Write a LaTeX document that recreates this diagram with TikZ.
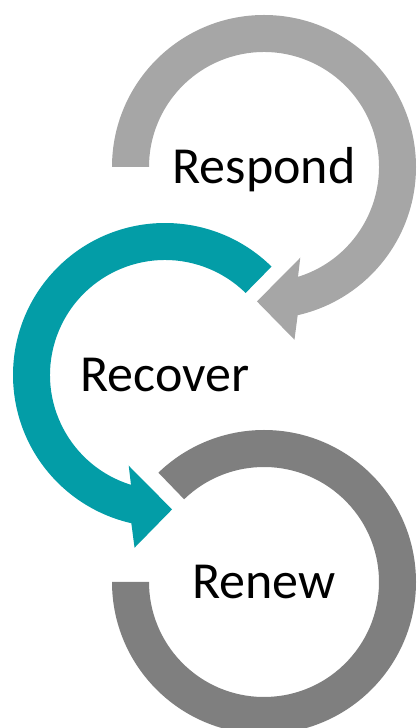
\documentclass[tikz,border=0pt]{standalone}
\usepackage{fontspec}
\setmainfont{Carlito}
\usetikzlibrary{calc}
\definecolor{lgrey}{HTML}{A6A6A6}
\definecolor{teal1}{HTML}{039DA7}
\definecolor{dgrey}{HTML}{7F7F7F}
\begin{document}
\begin{tikzpicture}[x=1pt,y=1pt,
  lbl/.style={font=\fontsize{52}{62}\selectfont, anchor=base, inner sep=0pt, text=black}]
\useasboundingbox (0,0) rectangle (416,728);
\clip (0,0) rectangle (416,728);
\coordinate (c1) at (264,561);
\coordinate (c2) at (165,353);
\coordinate (c3) at (264,146);
% Respond arrow (clockwise)
\fill[lgrey] ($(c1)+(180:152)$) arc[start angle=180,end angle=-77.2,radius=152]
  -- ($(c1)+(-80:175.4)$) -- ($(c1)+(-93:134.6)$) -- ($(c1)+(-68.2:97.7)$)
  -- ($(c1)+(-72.8:115)$) arc[start angle=-72.8,end angle=180,radius=115] -- cycle;
% Recover arrow (counter-clockwise)
\fill[teal1] ($(c2)+(45.5:152)$) arc[start angle=45.5,end angle=257.2,radius=152]
  -- ($(c2)+(260:175.4)$) -- ($(c2)+(273:134.6)$) -- ($(c2)+(248.2:97.7)$)
  -- ($(c2)+(252.8:115)$) arc[start angle=252.8,end angle=45.5,radius=115] -- cycle;
% Renew ring
\fill[dgrey] ($(c3)+(180:152)$) arc[start angle=180,end angle=494,radius=152]
  -- ($(c3)+(134:115)$) arc[start angle=494,end angle=180,radius=115] -- cycle;
% labels
\node[lbl] (respond) at ($(c1)+(0,-16.7)$) {Respond};
\node[lbl] (recover) at ($(c2)+(0,-16.7)$) {Recover};
\node[lbl] (renew) at ($(c3)+(0,-16.7)$) {Renew};
\end{tikzpicture}
\end{document}
